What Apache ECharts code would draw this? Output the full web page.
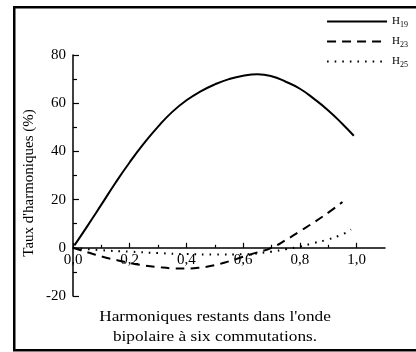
<!DOCTYPE html>
<html>
<head>
<meta charset="utf-8">
<script src="https://cdn.jsdelivr.net/npm/echarts@6/dist/echarts.min.js"></script>
<style>html,body{margin:0;padding:0;background:#fff}#c{width:416px;height:352px}</style>
</head>
<body>
<div id="c"></div>
<script>
// ---- data ----
const xH19 = [0.005, 0.05, 0.1, 0.15, 0.2, 0.25, 0.3, 0.35, 0.4, 0.45, 0.5, 0.55, 0.6, 0.65, 0.7, 0.75, 0.8, 0.85, 0.9, 0.95, 0.99];
const yH19 = [1.0, 8.9, 17.9, 27.0, 35.5, 43.3, 50.3, 56.4, 61.2, 64.9, 67.8, 70.0, 71.4, 72.0, 71.2, 68.9, 66.0, 61.8, 57.0, 51.4, 46.5];
const xH23 = [0, 0.05, 0.1, 0.15, 0.2, 0.25, 0.3, 0.35, 0.4, 0.45, 0.5, 0.55, 0.6, 0.65, 0.7, 0.75, 0.8, 0.85, 0.9, 0.95];
const yH23 = [0, -1.8, -3.6, -5.0, -6.3, -7.3, -8.0, -8.5, -8.6, -8.2, -7.2, -5.6, -3.7, -1.9, 0, 3.2, 6.9, 10.6, 14.6, 19.0];
const xH25 = [0, 0.1, 0.2, 0.3, 0.4, 0.5, 0.6, 0.7, 0.75, 0.8, 0.85, 0.9, 0.95, 0.98];
const yH25 = [0, -1.0, -1.6, -2.2, -2.6, -2.8, -2.7, -1.6, -0.6, 0.5, 2.0, 3.5, 5.6, 7.6];
const seriesNames = ['H19', 'H23', 'H25'];
const xMajorTicks = [0, 0.2, 0.4, 0.6, 0.8, 1.0];
const xMinorTicks = [0.1, 0.3, 0.5, 0.7, 0.9];
const yTitle = "Taux d'harmoniques (%)";
const xTitleLines = ["Harmoniques restants dans l'onde", "bipolaire à six commutations."];

const pair = (xs, ys) => xs.map((x, i) => [x, ys[i]]);
const FONT = 'Liberation Serif';
const Y_MIN = -20, Y_MAX = 80;
const gridPos = { left: 73, top: 55, width: 312, height: 241 };
// distance from grid bottom up to the y = 0 line
const zeroOffset = -gridPos.height * (0 - Y_MIN) / (Y_MAX - Y_MIN);

const chart = echarts.init(document.getElementById('c'), null, { renderer: 'canvas' });
chart.setOption({
  animation: false,
  backgroundColor: '#fff',
  textStyle: { fontFamily: FONT, color: '#000' },
  legend: {
    orient: 'vertical', right: 3, top: 11,
    itemWidth: 60, itemHeight: 10, itemGap: 7.5,
    data: seriesNames,
    itemStyle: { opacity: 0 },
    formatter: n => 'H{s|' + n.slice(1) + '}',
    textStyle: {
      fontFamily: FONT, fontSize: 11, color: '#000',
      rich: { s: { fontFamily: FONT, fontSize: 8, padding: [6, 0, 0, 0], color: '#000' } }
    }
  },
  grid: [
    Object.assign({ containLabel: false }, gridPos),
    Object.assign({ containLabel: false }, gridPos)
  ],
  xAxis: [{
    type: 'value', gridIndex: 0, min: 0, max: 1.1, interval: 0.1,
    position: 'bottom', offset: zeroOffset,
    axisLine: { onZero: false, lineStyle: { color: '#000', width: 1.5 } },
    axisTick: { inside: true, length: 5, customValues: xMajorTicks, lineStyle: { color: '#000', width: 1.2 } },
    axisLabel: {
      customValues: xMajorTicks, margin: 5, fontFamily: FONT, fontSize: 15, color: '#000',
      hideOverlap: false,
      formatter: v => v.toFixed(1).replace('.', ',')
    },
    splitLine: { show: false }
  }, {
    type: 'value', gridIndex: 1, min: 0, max: 1.1, interval: 0.1,
    position: 'bottom', offset: zeroOffset,
    axisLine: { show: false, onZero: false },
    axisTick: { inside: true, length: 3, customValues: xMinorTicks, lineStyle: { color: '#000', width: 1.2 } },
    axisLabel: { show: false },
    splitLine: { show: false }
  }],
  yAxis: [{
    type: 'value', gridIndex: 0, min: Y_MIN, max: Y_MAX, interval: 20,
    axisLine: { show: true, onZero: false, lineStyle: { color: '#000', width: 1.5 } },
    axisTick: { show: true, inside: true, length: 6, lineStyle: { color: '#000', width: 1.2 } },
    minorTick: { show: true, splitNumber: 2, length: 4, lineStyle: { color: '#000', width: 1.2 } },
    axisLabel: { margin: 7, fontFamily: FONT, fontSize: 15, color: '#000' },
    splitLine: { show: false }
  }, {
    type: 'value', gridIndex: 1, min: Y_MIN, max: Y_MAX, interval: 20, show: false
  }],
  graphic: [
    {
      type: 'rect', silent: true,
      shape: { x: 14.25, y: 7.25, width: 440, height: 343 },
      style: { fill: 'none', stroke: '#000', lineWidth: 2.5 }
    },
    {
      type: 'text', silent: true,
      x: 29, y: 183, rotation: Math.PI / 2,
      style: { text: yTitle, fontFamily: FONT, fontSize: 15, fill: '#000', align: 'center', verticalAlign: 'middle' }
    },
    {
      type: 'text', silent: true,
      x: 215, y: 317, scaleX: 1.15,
      style: { text: xTitleLines[0], fontFamily: FONT, fontSize: 15, fill: '#000', align: 'center', verticalAlign: 'middle' }
    },
    {
      type: 'text', silent: true,
      x: 215, y: 337, scaleX: 1.15,
      style: { text: xTitleLines[1], fontFamily: FONT, fontSize: 15, fill: '#000', align: 'center', verticalAlign: 'middle' }
    }
  ],
  series: [
    {
      name: seriesNames[0], type: 'line', xAxisIndex: 0, yAxisIndex: 0, symbol: 'none', smooth: true,
      data: pair(xH19, yH19), lineStyle: { color: '#000', width: 2 }, itemStyle: { color: '#000' }
    },
    {
      name: seriesNames[1], type: 'line', xAxisIndex: 0, yAxisIndex: 0, symbol: 'none', smooth: true,
      data: pair(xH23, yH23), lineStyle: { color: '#000', width: 2, type: [9, 6] }, itemStyle: { color: '#000' }
    },
    {
      name: seriesNames[2], type: 'line', xAxisIndex: 0, yAxisIndex: 0, symbol: 'none', smooth: true,
      data: pair(xH25, yH25), lineStyle: { color: '#000', width: 2, type: [1.6, 6] }, itemStyle: { color: '#000' }
    }
  ]
});
</script>
</body>
</html>
